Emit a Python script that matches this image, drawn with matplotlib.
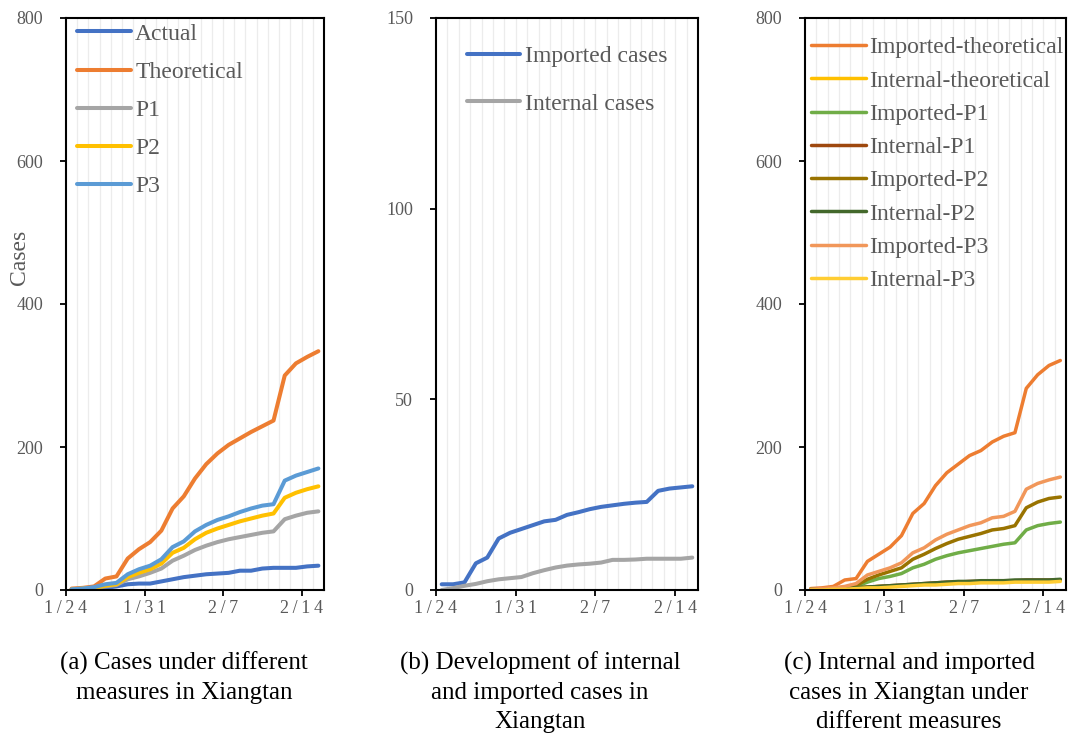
import numpy as np
import matplotlib
matplotlib.use('Agg')
from matplotlib import pyplot as plt

plt.rcParams['font.family'] = ['Liberation Serif', 'DejaVu Serif']

# days 1/24 .. 2/15
days = np.arange(23)
tick_days = [0, 7, 14, 21]
tick_labels = ['1\u2009/\u20092\u20094', '1\u2009/\u20093\u20091',
               '2\u2009/\u20097', '2\u2009/\u20091\u20094']

# (a) cases under different measures
actual = [1, 1, 1, 3, 5, 8, 9, 9, 12, 15, 18, 20, 22, 23, 24, 27, 27, 30, 31, 31, 31, 33, 34]
theoretical = [2, 3, 5, 16, 19, 44, 57, 67, 83, 114, 131, 156, 176, 191, 203, 212, 221, 229, 237, 300, 317, 326, 334]
p1 = [1, 2, 3, 5, 7, 15, 19, 24, 30, 41, 48, 56, 62, 67, 71, 74, 77, 80, 82, 99, 104, 108, 110]
p2 = [1, 2, 3, 6, 8, 18, 24, 29, 37, 52, 59, 71, 80, 86, 91, 96, 100, 104, 107, 129, 136, 141, 145]
p3 = [1, 2, 4, 8, 10, 22, 29, 34, 43, 60, 68, 82, 91, 98, 103, 109, 114, 118, 120, 153, 160, 165, 170]

# (b) internal and imported cases
imported = [1.5, 1.5, 2, 7, 8.5, 13.5, 15, 16, 17, 18, 18.4, 19.7, 20.4, 21.2, 21.8, 22.2, 22.6, 22.9, 23.1, 26, 26.6, 26.9, 27.2]
internal = [0, 0.5, 1.1, 1.6, 2.3, 2.8, 3.1, 3.4, 4.4, 5.2, 5.9, 6.4, 6.7, 6.9, 7.2, 7.9, 7.9, 8.0, 8.2, 8.2, 8.2, 8.2, 8.5]

# (c) internal and imported cases under different measures
imp_theo = [2, 3, 5, 14, 16, 40, 50, 60, 76, 107, 121, 146, 164, 176, 188, 195, 207, 215, 220, 282, 301, 314, 321]
int_theo = [0, 1, 1, 2, 3, 4, 5, 5, 6, 7, 8, 9, 10, 10, 11, 11, 12, 12, 12, 12, 13, 13, 13]
imp_p1 = [1, 1, 2, 3, 5, 11, 16, 19, 23, 31, 36, 43, 48, 52, 55, 58, 61, 64, 66, 84, 90, 93, 95]
int_p1 = [0, 1, 1, 2, 3, 4, 5, 6, 7, 8, 9, 10, 11, 11, 12, 12, 13, 13, 13, 14, 14, 14, 14]
imp_p2 = [1, 1, 2, 4, 6, 15, 21, 26, 31, 43, 50, 58, 65, 71, 75, 79, 84, 86, 90, 115, 123, 128, 130]
int_p2 = [0, 1, 1, 2, 3, 4, 5, 6, 7, 8, 9, 10, 11, 12, 12, 13, 13, 13, 14, 14, 14, 14, 15]
imp_p3 = [1, 2, 3, 5, 9, 21, 26, 31, 38, 52, 59, 70, 78, 84, 90, 94, 101, 103, 110, 141, 149, 154, 158]
int_p3 = [0, 0, 1, 1, 2, 3, 3, 4, 5, 6, 7, 7, 8, 9, 9, 10, 10, 10, 11, 11, 11, 11, 12]

grey = '#595959'
fig = plt.figure(figsize=(10.75, 7.4), dpi=100)
W, H = 1075.0, 740.0


def make_ax(left, right, ymax, ystep):
    ax = fig.add_axes([left / W, (H - 590) / H, (right - left) / W, 572 / H])
    for d in range(1, 23):
        ax.axvline(d, color='#ececec', lw=0.9, zorder=0)
    ax.set_xlim(0, 23)
    ax.set_ylim(0, ymax)
    ax.set_yticks(np.arange(0, ymax + 1, ystep))
    ax.set_xticks(tick_days)
    ax.set_xticklabels(tick_labels)
    for s in ax.spines.values():
        s.set_linewidth(1.5)
        s.set_color('black')
    ax.tick_params(axis='y', direction='out', length=4.5, width=1.3, pad=12,
                   labelsize=13, labelcolor=grey)
    ax.tick_params(axis='x', direction='out', length=4.5, width=1.3, pad=3,
                   labelsize=13, labelcolor=grey)
    return ax


x = days + 0.5
kw = dict(solid_capstyle='round', solid_joinstyle='round')

ax1 = make_ax(66, 324, 800, 200)
ax1.plot(x, actual, color='#4472C4', lw=2.9, label='Actual', **kw)
ax1.plot(x, theoretical, color='#ED7D31', lw=2.9, label='Theoretical', **kw)
ax1.plot(x, p1, color='#A5A5A5', lw=2.9, label='P1', **kw)
ax1.plot(x, p2, color='#FFC000', lw=2.9, label='P2', **kw)
ax1.plot(x, p3, color='#5B9BD5', lw=2.9, label='P3', **kw)
ax1.legend(loc='upper left', bbox_to_anchor=(0.035, 0.995), frameon=False,
           fontsize=17, labelcolor=grey, handlelength=2.25,
           handletextpad=0.2, labelspacing=0.7, borderpad=0.1,
           borderaxespad=0)

ax2 = make_ax(436, 698, 150, 50)
ax2.plot(x, imported, color='#4472C4', lw=2.9, label='Imported cases', **kw)
ax2.plot(x, internal, color='#A5A5A5', lw=2.9, label='Internal cases', **kw)
ax2.legend(loc='upper left', bbox_to_anchor=(0.11, 0.956), frameon=False,
           fontsize=17, labelcolor=grey, handlelength=2.25,
           handletextpad=0.2, labelspacing=1.1, borderpad=0.1,
           borderaxespad=0)

ax3 = make_ax(805, 1066, 800, 200)
c_series = [
    (imp_theo, '#ED7D31', 'Imported-theoretical'),
    (int_theo, '#FFC000', 'Internal-theoretical'),
    (imp_p1, '#70AD47', 'Imported-P1'),
    (int_p1, '#9E480E', 'Internal-P1'),
    (imp_p2, '#997300', 'Imported-P2'),
    (int_p2, '#43682B', 'Internal-P2'),
    (imp_p3, '#F1975A', 'Imported-P3'),
    (int_p3, '#FFCD33', 'Internal-P3'),
]
for vals, col, lab in c_series:
    ax3.plot(x, vals, color=col, lw=2.5, label=lab, **kw)
ax3.legend(loc='upper left', bbox_to_anchor=(0.015, 0.971), frameon=False,
           fontsize=17, labelcolor=grey, handlelength=2.3,
           handletextpad=0.15, labelspacing=0.495, borderpad=0.1,
           borderaxespad=0)

fig.text(20 / W, 1 - 257 / H, 'Cases', rotation=90, ha='center', va='center',
         fontsize=17, color=grey)

captions = [
    (184, '(a) Cases under different\nmeasures in Xiangtan'),
    (540, '(b) Development of internal\nand imported cases in\nXiangtan'),
    (909, '(c) Internal and imported\ncases in Xiangtan under\ndifferent measures'),
]
for cx, txt in captions:
    fig.text(cx / W, 1 - 652 / H, txt, ha='center', va='top', fontsize=18,
             color='black', linespacing=1.4)

fig.savefig('out.png', dpi=100)
